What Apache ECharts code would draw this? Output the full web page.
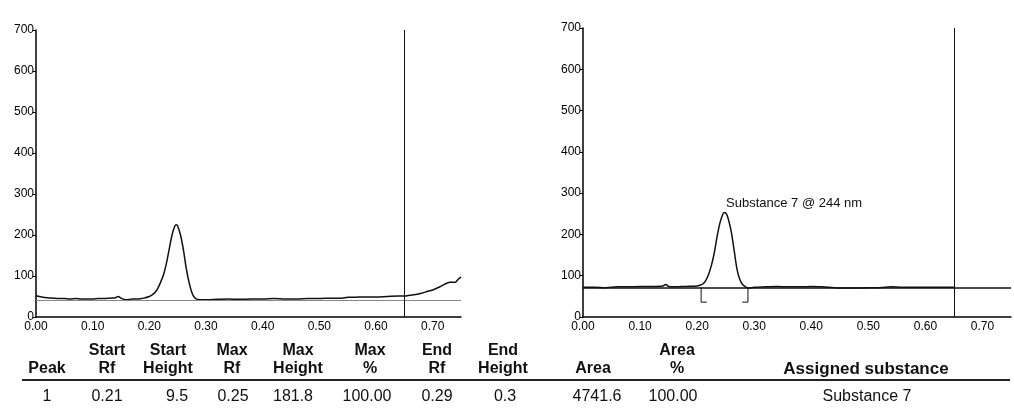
<!DOCTYPE html>
<html>
<head>
<meta charset="utf-8">
<script src="https://cdn.jsdelivr.net/npm/echarts@6/dist/echarts.min.js"></script>
<style>
  html, body { margin: 0; padding: 0; background: #fff; }
  #main { width: 1014px; height: 408px; }
</style>
</head>
<body>
<div id="main"></div>
<script>
// Left densitogram (track scan), Rf vs. signal
const leftRf = [0, 0.01, 0.02, 0.03, 0.04, 0.05, 0.06, 0.07, 0.08, 0.09, 0.10, 0.11, 0.12, 0.13, 0.14, 0.145, 0.15, 0.155, 0.16, 0.17, 0.18, 0.19,
  0.20, 0.205, 0.21, 0.215, 0.22, 0.225, 0.23, 0.235, 0.24, 0.245, 0.2475, 0.25, 0.255, 0.26, 0.265, 0.27, 0.275, 0.28, 0.285, 0.29,
  0.30, 0.32, 0.34, 0.36, 0.38, 0.40, 0.42, 0.44, 0.46, 0.48, 0.50, 0.52, 0.54, 0.55, 0.56, 0.58, 0.60, 0.62, 0.64, 0.65,
  0.66, 0.67, 0.68, 0.69, 0.70, 0.71, 0.72, 0.73, 0.74, 0.745, 0.75];
const leftSignal = [52, 49, 47, 46, 45, 45, 44, 45, 44, 44, 44, 45, 45, 46, 47, 50, 46, 43, 42, 44, 44, 46,
  50, 54, 60, 70, 85, 103, 130, 165, 200, 222, 225, 222, 200, 165, 120, 85, 60, 47, 43, 42,
  42, 43, 44, 43, 44, 44, 45, 44, 44, 45, 45, 46, 46, 48, 48, 49, 49, 50, 51, 51,
  53, 55, 58, 62, 66, 72, 79, 85, 85, 92, 97];
const leftBaseline = 42;

// Right densitogram with integrated peak
const rightRf = [0, 0.02, 0.04, 0.06, 0.08, 0.10, 0.12, 0.14, 0.145, 0.15, 0.16, 0.18, 0.20, 0.205, 0.21, 0.215, 0.22, 0.225, 0.23, 0.235,
  0.24, 0.245, 0.248, 0.252, 0.256, 0.26, 0.265, 0.27, 0.275, 0.28, 0.285, 0.29, 0.30, 0.32, 0.34, 0.36, 0.38, 0.40, 0.42,
  0.44, 0.46, 0.48, 0.50, 0.52, 0.54, 0.56, 0.58, 0.60, 0.62, 0.64, 0.65];
const rightSignal = [72, 72, 71, 73, 73, 74, 74, 75, 79, 74, 73, 74, 75, 77, 80, 88, 103, 125, 155, 195,
  228, 249, 253, 248, 230, 205, 160, 115, 90, 78, 73, 70, 72, 73, 74, 73, 73, 74, 73,
  71, 70, 70, 71, 71, 73, 72, 72, 72, 72, 72, 72];
const rightBaseline = 72;
const peakStartRf = 0.207;
const peakEndRf = 0.289;
const bracketLow = 36;
const peakLabel = 'Substance 7 @ 244 nm';
const peakTop = [0.248, 253];

// scan end marker (both tracks)
const scanEndRf = 0.652;

// axis ticks
const yMin = 0, yMax = 700, yStep = 100;
const xMin = 0, xMax = 0.75, xStep = 0.1;

// peak table
const tableHead1 = ['', 'Start', 'Start', 'Max', 'Max', 'Max', 'End', 'End', '', 'Area', ''];
const tableHead2 = ['Peak', 'Rf', 'Height', 'Rf', 'Height', '%', 'Rf', 'Height', 'Area', '%', 'Assigned substance'];
const tableRow = ['1', '0.21', '9.5', '0.25', '181.8', '100.00', '0.29', '0.3', '4741.6', '100.00', 'Substance 7'];

const headX = [47, 107, 168, 232, 298, 370, 437, 503, 593, 677, 866];
const rowX = [47, 107, 177, 233, 293, 367, 437, 505, 597, 673, 867];

const FONT = '"Liberation Sans", Arial, sans-serif';

function pairs(xs, ys) {
  return xs.map((x, i) => [x, ys[i]]);
}

function xAxisCfg(gridIndex) {
  return {
    type: 'value', gridIndex, min: xMin, max: xMax, interval: xStep,
    splitLine: { show: false },
    axisLine: { lineStyle: { color: '#000', width: 1.5 } },
    axisTick: { show: false },
    axisLabel: {
      color: '#000', fontFamily: FONT, fontSize: 12, margin: 4,
      showMaxLabel: false,
      formatter: v => v.toFixed(2)
    }
  };
}

function yAxisCfg(gridIndex) {
  return {
    type: 'value', gridIndex, min: yMin, max: yMax, interval: yStep,
    splitLine: { show: false },
    axisLine: { show: true, lineStyle: { color: '#000', width: 1.5 } },
    axisTick: { show: true, length: 3, lineStyle: { color: '#000' } },
    axisLabel: { color: '#000', fontFamily: FONT, fontSize: 12, margin: 2 }
  };
}

const traceStyle = { color: '#111', width: 1.5 };

const graphic = [];
tableHead1.forEach((t, i) => {
  if (!t) return;
  graphic.push({ type: 'text', x: headX[i], y: 351,
    style: { text: t, font: 'bold 16px ' + FONT, fill: '#111', align: 'center', verticalAlign: 'middle' } });
});
tableHead2.forEach((t, i) => {
  const size = i === tableHead2.length - 1 ? 17 : 16;
  graphic.push({ type: 'text', x: headX[i], y: 369,
    style: { text: t, font: 'bold ' + size + 'px ' + FONT, fill: '#111', align: 'center', verticalAlign: 'middle' } });
});
tableRow.forEach((t, i) => {
  graphic.push({ type: 'text', x: rowX[i], y: 397,
    style: { text: t, font: '16px ' + FONT, fill: '#111', align: 'center', verticalAlign: 'middle' } });
});
graphic.push({ type: 'line', shape: { x1: 22, y1: 380, x2: 1010, y2: 380 },
  style: { stroke: '#222', lineWidth: 2 } });

const option = {
  animation: false,
  backgroundColor: '#fff',
  grid: [
    { left: 36, top: 30, width: 425, height: 287 },
    { left: 583, top: 28, width: 428, height: 289 }
  ],
  xAxis: [xAxisCfg(0), xAxisCfg(1)],
  yAxis: [yAxisCfg(0), yAxisCfg(1)],
  graphic,
  series: [
    {
      type: 'line', xAxisIndex: 0, yAxisIndex: 0,
      data: pairs(leftRf, leftSignal),
      showSymbol: false, smooth: 0.3, lineStyle: traceStyle,
      markLine: {
        silent: true, symbol: 'none', label: { show: false },
        data: [
          { yAxis: leftBaseline, lineStyle: { color: '#888', width: 1, type: 'solid' } },
          { xAxis: scanEndRf, lineStyle: { color: '#111', width: 1, type: 'solid' } }
        ]
      }
    },
    {
      type: 'line', xAxisIndex: 1, yAxisIndex: 1,
      data: pairs(rightRf, rightSignal),
      showSymbol: false, smooth: 0.3, lineStyle: traceStyle,
      markLine: {
        silent: true, symbol: 'none', label: { show: false },
        data: [
          { yAxis: rightBaseline, lineStyle: { color: '#111', width: 1.5, type: 'solid' } },
          { xAxis: scanEndRf, lineStyle: { color: '#111', width: 1, type: 'solid' } }
        ]
      },
      markPoint: {
        silent: true, symbol: 'circle', symbolSize: 1,
        itemStyle: { color: 'transparent' },
        data: [{ coord: peakTop }],
        label: {
          show: true, formatter: peakLabel, position: 'right',
          offset: [-4, -9], color: '#111', fontFamily: FONT, fontSize: 13
        }
      }
    },
    // integration brackets at peak start / end
    {
      type: 'line', xAxisIndex: 1, yAxisIndex: 1, showSymbol: false,
      lineStyle: { color: '#111', width: 1 },
      data: [[peakStartRf, rightBaseline], [peakStartRf, bracketLow], [peakStartRf + 0.01, bracketLow]]
    },
    {
      type: 'line', xAxisIndex: 1, yAxisIndex: 1, showSymbol: false,
      lineStyle: { color: '#111', width: 1 },
      data: [[peakEndRf, rightBaseline], [peakEndRf, bracketLow], [peakEndRf - 0.01, bracketLow]]
    }
  ]
};

const myChart = echarts.init(document.getElementById('main'), null, { renderer: 'canvas' });
myChart.setOption(option);
</script>
</body>
</html>
